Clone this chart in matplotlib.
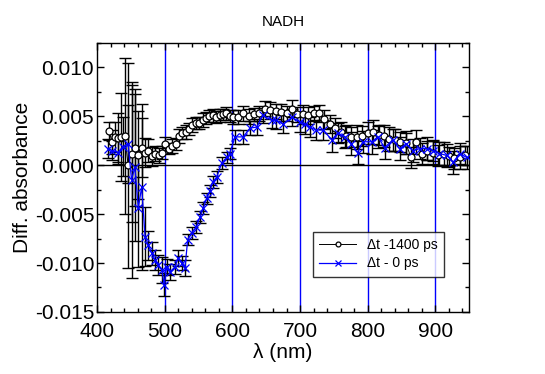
import numpy as np
import matplotlib
matplotlib.use("Agg")
import matplotlib.pyplot as plt
from matplotlib.ticker import MultipleLocator

plt.rcParams["font.family"] = ["Liberation Sans", "DejaVu Sans"]

# ── DATA ─────────────────────────────────────────────────────────────────────
# Δt -1400 ps  (black, open circles)
wl_1400 = [418, 422, 426, 431, 436, 441, 446, 451, 456, 461, 466, 471, 476, 481,
           486, 491, 496, 501, 506, 511, 516, 521, 526, 531, 536, 541, 546, 551,
           556, 561, 566, 571, 576, 581, 586, 591, 596, 601, 608, 616, 624, 632,
           640, 648, 656, 664, 672, 680, 688, 696, 704, 712, 720, 728, 736, 744,
           752, 760, 768, 776, 784, 792, 800, 808, 816, 824, 832, 840, 848, 856,
           864, 872, 880, 888, 896, 904, 912, 920, 928, 936, 944]
abs_1400 = [0.0035, 0.0024, 0.0029, 0.0028, 0.0029, 0.0030, 0.0000, 0.0012,
            0.0018, 0.0010, 0.0018, 0.0013, 0.0015, 0.0009, 0.0012, 0.0010,
            0.0013, 0.0022, 0.0017, 0.0020, 0.0022, 0.0030, 0.0033, 0.0034,
            0.0037, 0.0041, 0.0043, 0.0043, 0.0046, 0.0048, 0.0050, 0.0051,
            0.0049, 0.0051, 0.0052, 0.0053, 0.0050, 0.0049, 0.0049, 0.0053,
            0.0050, 0.0052, 0.0053, 0.0058, 0.0056, 0.0055, 0.0054, 0.0053,
            0.0058, 0.0052, 0.0052, 0.0051, 0.0053, 0.0053, 0.0047, 0.0042,
            0.0038, 0.0034, 0.0030, 0.0029, 0.0029, 0.0030, 0.0033, 0.0034,
            0.0031, 0.0030, 0.0027, 0.0026, 0.0024, 0.0023, 0.0008, 0.0024,
            0.0012, 0.0015, 0.0013, 0.0010, 0.0012, 0.0009, 0.0007, 0.0008,
            0.0010]
err_1400 = [0.0009, 0.0012, 0.0015, 0.0025, 0.0045, 0.0080, 0.0105, 0.0070,
            0.0060, 0.0045, 0.0030, 0.0015, 0.0012, 0.0010, 0.0008, 0.0008,
            0.0007, 0.0007, 0.0006, 0.0007, 0.0006, 0.0007, 0.0006, 0.0007,
            0.0006, 0.0007, 0.0006, 0.0006, 0.0007, 0.0006, 0.0006, 0.0007,
            0.0006, 0.0007, 0.0006, 0.0007, 0.0006, 0.0007, 0.0007, 0.0008,
            0.0008, 0.0007, 0.0008, 0.0008, 0.0009, 0.0008, 0.0009, 0.0008,
            0.0009, 0.0008, 0.0010, 0.0009, 0.0008, 0.0009, 0.0010, 0.0009,
            0.0010, 0.0010, 0.0011, 0.0010, 0.0012, 0.0010, 0.0011, 0.0012,
            0.0010, 0.0011, 0.0012, 0.0011, 0.0010, 0.0012, 0.0011, 0.0012,
            0.0011, 0.0010, 0.0012, 0.0011, 0.0012, 0.0010, 0.0011, 0.0012,
            0.0010]

# Δt - 0 ps  (blue, crosses)
wl_0 = [416, 422, 431, 438, 446, 451, 456, 461, 466, 471, 476, 481, 486, 490,
        496, 499, 503, 508, 515, 520, 525, 530, 534, 540, 547, 552, 557, 562,
        567, 571, 577, 584, 592, 596, 604, 616, 626, 636, 645, 658, 665, 675,
        688, 700, 707, 714, 724, 734, 747, 756, 766, 776, 785, 793, 806, 815,
        825, 837, 847, 857, 867, 877, 887, 896, 906, 917, 926, 936, 946]
abs_0 = [0.0017, 0.0015, 0.0013, 0.0019, 0.0022, -0.0015, -0.0002, -0.0044,
         -0.0022, -0.0073, -0.0082, -0.0090, -0.0097, -0.0102, -0.0107,
         -0.0122, -0.0104, -0.0109, -0.0104, -0.0095, -0.0100, -0.0105,
         -0.0076, -0.0069, -0.0063, -0.0053, -0.0044, -0.0034, -0.0026,
         -0.0017, -0.0012, 0.0002, 0.0008, 0.0012, 0.0029, 0.0029, 0.0038,
         0.0039, 0.0051, 0.0046, 0.0046, 0.0042, 0.0049, 0.0044, 0.0042,
         0.0039, 0.0036, 0.0036, 0.0026, 0.0033, 0.0029, 0.0022, 0.0013,
         0.0024, 0.0024, 0.0029, 0.0018, 0.0026, 0.0017, 0.0022, 0.0015,
         0.0017, 0.0017, 0.0015, 0.0012, 0.0010, 0.0003, 0.0012, 0.0008]
err_0 = [0.0010, 0.0010, 0.0012, 0.0030, 0.0040, 0.0100, 0.0075, 0.0060,
         0.0085, 0.0030, 0.0015, 0.0012, 0.0010, 0.0010, 0.0013, 0.0012,
         0.0008, 0.0008, 0.0007, 0.0008, 0.0007, 0.0008, 0.0006, 0.0006,
         0.0006, 0.0006, 0.0006, 0.0006, 0.0006, 0.0006, 0.0006, 0.0006,
         0.0006, 0.0006, 0.0007, 0.0007, 0.0007, 0.0008, 0.0008, 0.0008,
         0.0009, 0.0009, 0.0009, 0.0010, 0.0010, 0.0010, 0.0010, 0.0010,
         0.0012, 0.0010, 0.0011, 0.0012, 0.0012, 0.0011, 0.0012, 0.0011,
         0.0012, 0.0011, 0.0012, 0.0011, 0.0012, 0.0011, 0.0012, 0.0011,
         0.0012, 0.0012, 0.0012, 0.0011, 0.0012]

vlines_nm = [500, 600, 700, 800, 900]

# ── PLOT ─────────────────────────────────────────────────────────────────────
fig = plt.figure(figsize=(5.45, 3.74), dpi=100)
ax = fig.add_axes([0.178, 0.166, 0.683, 0.719])

for v in vlines_nm:
    ax.axvline(v, color="#0000ff", lw=1.0, zorder=1)
ax.axhline(0, color="black", lw=1.0, zorder=1)

ax.errorbar(wl_1400, abs_1400, yerr=err_1400, fmt="none", ecolor="black",
            elinewidth=1.0, capsize=4, capthick=1.0, zorder=2)
ax.errorbar(wl_0, abs_0, yerr=err_0, fmt="none", ecolor="black",
            elinewidth=1.0, capsize=4, capthick=1.0, zorder=2)

ax.plot(wl_1400, abs_1400, color="black", lw=0.7, marker="o", ms=5,
        mfc="white", mec="black", mew=0.9, zorder=3, label="Δt -1400 ps")
ax.plot(wl_0, abs_0, color="#0000ff", lw=0.9, marker="x", ms=5.5,
        mec="#0000ff", mew=0.9, zorder=4, label="Δt - 0 ps")

ax.set_xlim(400, 950)
ax.set_ylim(-0.015, 0.0125)
ax.xaxis.set_major_locator(MultipleLocator(100))
ax.xaxis.set_minor_locator(MultipleLocator(20))
ax.yaxis.set_major_locator(MultipleLocator(0.005))
ax.yaxis.set_minor_locator(MultipleLocator(0.0025))
ax.yaxis.set_major_formatter(matplotlib.ticker.FormatStrFormatter("%.3f"))
ax.tick_params(which="both", direction="in", top=True, right=True,
               labelsize=15, width=1.0, pad=2)
ax.tick_params(axis="x", which="major", pad=7)
ax.tick_params(which="major", length=5)
ax.tick_params(which="minor", length=3)
for s in ax.spines.values():
    s.set_linewidth(1.0)

ax.set_xlabel("λ (nm)", fontsize=15, labelpad=2)
ax.set_ylabel("Diff. absorbance", fontsize=15, labelpad=2)
ax.set_title("NADH", fontsize=11, pad=12)

leg = ax.legend(loc="lower right", bbox_to_anchor=(0.95, 0.105), fontsize=10,
                frameon=True, fancybox=False, edgecolor="black",
                handlelength=2.6, borderpad=0.45, labelspacing=0.3,
                markerscale=0.7)
leg.get_frame().set_linewidth(1.0)

fig.savefig("out.png", dpi=100)
